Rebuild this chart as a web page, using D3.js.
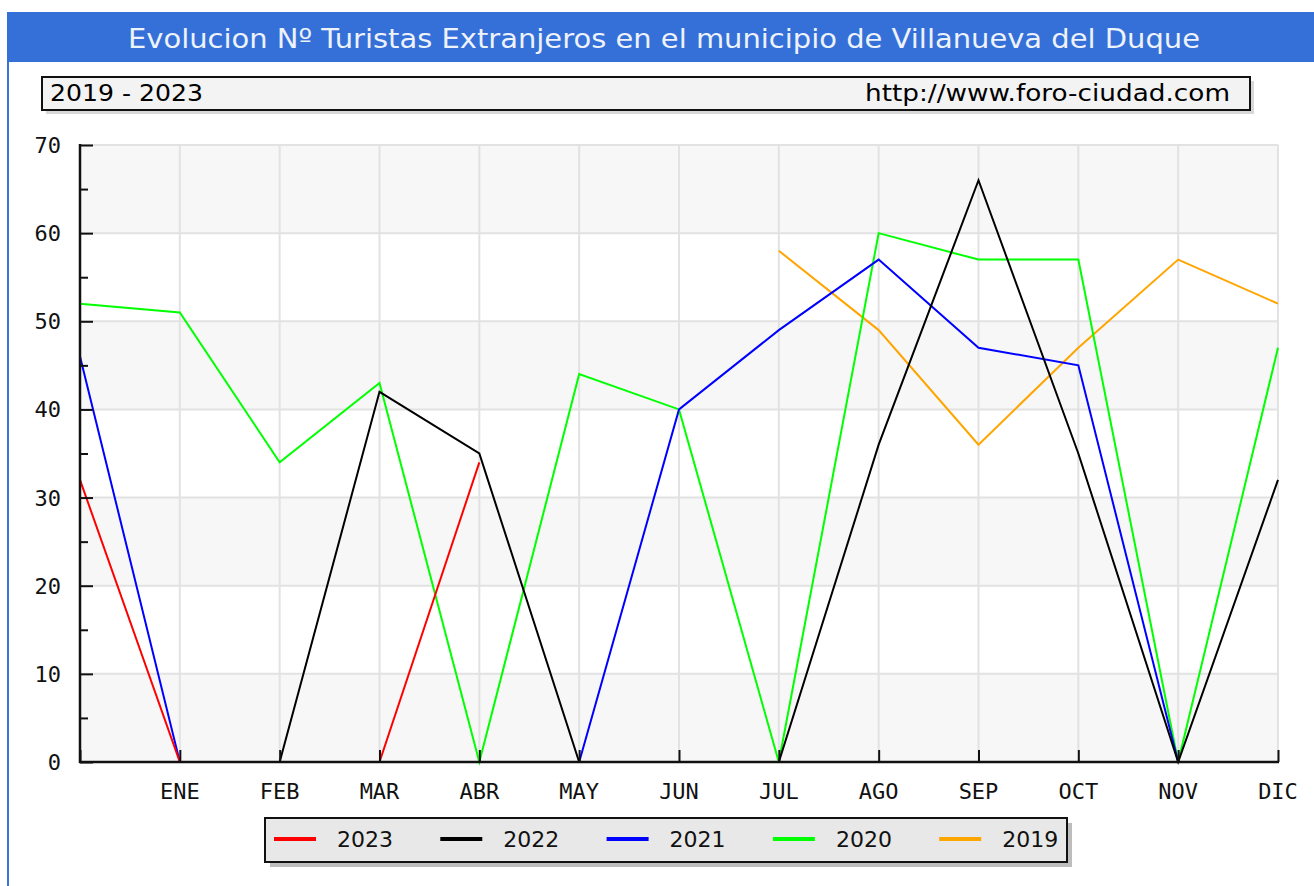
<!DOCTYPE html>
<html>
<head>
<meta charset="utf-8">
<script src="https://cdn.jsdelivr.net/npm/d3@7"></script>
<style>
  body { margin: 0; background: #fff; }
  svg { display: block; }
</style>
</head>
<body>
<svg id="chart" width="1314" height="886"></svg>
<script>
// data
const months = ['', 'ENE', 'FEB', 'MAR', 'ABR', 'MAY', 'JUN', 'JUL', 'AGO', 'SEP', 'OCT', 'NOV', 'DIC'];
const years = ['2023', '2022', '2021', '2020', '2019'];
const colors = ['#ff0000', '#000000', '#0000ff', '#00ff00', '#ffa500'];
const v2023 = [32, 0, 0, 0, 34, null, null, null, null, null, null, null, null];
const v2022 = [null, null, 0, 42, 35, 0, 0, 0, 36, 66, 35, 0, 32];
const v2021 = [46, 0, 0, 0, 0, 0, 40, 49, 57, 47, 45, 0, null];
const v2020 = [52, 51, 34, 43, 0, 44, 40, 0, 60, 57, 57, 0, 47];
const v2019 = [null, null, null, null, null, null, null, 58, 49, 36, 47, 57, 52];
const yTicks = [0, 10, 20, 30, 40, 50, 60, 70];

const series = [v2023, v2022, v2021, v2020, v2019];

const svg = d3.select('#chart');

// frame + title bar
svg.append('line')
    .attr('x1', 8).attr('x2', 8).attr('y1', 60).attr('y2', 886)
    .style('stroke', '#3a74da').style('stroke-width', 2);
svg.append('rect')
    .attr('x', 7).attr('y', 12).attr('width', 1307).attr('height', 50)
    .style('fill', '#3470d8');
svg.append('text')
    .attr('x', 128).attr('y', 48)
    .attr('textLength', 1072).attr('lengthAdjust', 'spacingAndGlyphs')
    .style('font-family', 'DejaVu Sans').style('font-size', '27px')
    .style('fill', '#eef2fb')
    .text('Evolucion Nº Turistas Extranjeros en el municipio de Villanueva del Duque');

// subtitle box
svg.append('rect')
    .attr('x', 46).attr('y', 81).attr('width', 1208).attr('height', 33)
    .style('fill', '#d8d8d8');
svg.append('rect')
    .attr('x', 42).attr('y', 77).attr('width', 1208).attr('height', 33)
    .style('fill', '#f3f3f3').style('stroke', '#111').style('stroke-width', 2);
svg.append('text')
    .attr('x', 50).attr('y', 101)
    .attr('textLength', 153).attr('lengthAdjust', 'spacingAndGlyphs')
    .style('font-family', 'DejaVu Sans').style('font-size', '23px')
    .text('2019 - 2023');
svg.append('text')
    .attr('x', 865).attr('y', 101)
    .attr('textLength', 365).attr('lengthAdjust', 'spacingAndGlyphs')
    .style('font-family', 'DejaVu Sans').style('font-size', '23px')
    .text('http://www.foro-ciudad.com');

// scales
let x = d3.scalePoint()
    .domain(d3.range(months.length))
    .range([80, 1278]);
let y = d3.scaleLinear()
    .domain([0, 70])
    .range([762, 145]);

// alternating bands
let plot = svg.append('g');
for (let i = 0; i < yTicks.length - 1; i++) {
    plot.append('rect')
        .attr('x', x(0)).attr('width', x(12) - x(0))
        .attr('y', y(yTicks[i + 1])).attr('height', y(yTicks[i]) - y(yTicks[i + 1]))
        .style('fill', i % 2 === 0 ? '#f7f7f7' : '#ffffff');
}

// grid
plot.append('g')
    .selectAll('line')
    .data(yTicks.slice(1))
    .enter()
    .append('line')
    .attr('x1', x(0)).attr('x2', x(12))
    .attr('y1', d => y(d)).attr('y2', d => y(d))
    .style('stroke', '#e2e2e2').style('stroke-width', 2);
plot.append('g')
    .selectAll('line')
    .data(d3.range(1, months.length))
    .enter()
    .append('line')
    .attr('x1', d => x(d)).attr('x2', d => x(d))
    .attr('y1', y(70)).attr('y2', y(0))
    .style('stroke', '#e2e2e2').style('stroke-width', 2);

// series lines, oldest first so 2023 ends on top
let line = d3.line()
    .defined(d => d !== null)
    .x((d, i) => x(i))
    .y(d => y(d));

for (let s = series.length - 1; s >= 0; s--) {
    svg.append('path')
        .datum(series[s])
        .attr('d', line)
        .style('fill', 'none')
        .style('stroke', colors[s])
        .style('stroke-width', 2);
}

// y axis: ticks pointing inward, minor every 5
let yAxis = svg.append('g')
    .attr('transform', 'translate(80,0)')
    .call(d3.axisRight(y).tickValues(d3.range(0, 71, 5)).tickSize(0).tickFormat(''));
yAxis.select('.domain').remove();
yAxis.selectAll('.tick line')
    .attr('x2', d => d % 10 === 0 ? 13 : 8)
    .style('stroke', '#111').style('stroke-width', 2);
svg.append('line')
    .attr('x1', 80).attr('x2', 80).attr('y1', y(70) - 1).attr('y2', y(0) + 1)
    .style('stroke', '#111').style('stroke-width', 2.5);
svg.append('g')
    .selectAll('text')
    .data(yTicks)
    .enter()
    .append('text')
    .attr('x', 61)
    .attr('y', d => y(d) + 8)
    .attr('text-anchor', 'end')
    .style('font-family', 'DejaVu Sans Mono').style('font-size', '22px')
    .style('fill', '#111')
    .text(d => d);

// x axis
let xAxis = svg.append('g')
    .attr('transform', 'translate(0,' + y(0) + ')')
    .call(d3.axisTop(x).tickSize(12).tickFormat(''));
xAxis.select('.domain').remove();
xAxis.selectAll('.tick line').style('stroke', '#111').style('stroke-width', 2);
svg.append('line')
    .attr('x1', 79).attr('x2', x(12) + 1).attr('y1', y(0)).attr('y2', y(0))
    .style('stroke', '#111').style('stroke-width', 2.5);
svg.append('g')
    .selectAll('text')
    .data(d3.range(1, months.length))
    .enter()
    .append('text')
    .attr('x', d => x(d))
    .attr('y', 799)
    .attr('text-anchor', 'middle')
    .style('font-family', 'DejaVu Sans Mono').style('font-size', '22px')
    .style('fill', '#111')
    .text(d => months[d]);

// legend
let legend = svg.append('g');
legend.append('rect')
    .attr('x', 270).attr('y', 823).attr('width', 802).attr('height', 44)
    .style('fill', '#bdbdbd');
legend.append('rect')
    .attr('x', 265).attr('y', 818).attr('width', 802).attr('height', 44)
    .style('fill', '#e8e8e8').style('stroke', '#111').style('stroke-width', 2);
years.forEach(function (yr, i) {
    let lx = 274 + i * 166.3;
    legend.append('line')
        .attr('x1', lx).attr('x2', lx + 42).attr('y1', 839).attr('y2', 839)
        .style('stroke', colors[i]).style('stroke-width', 4);
    legend.append('text')
        .attr('x', lx + 63).attr('y', 847)
        .style('font-family', 'DejaVu Sans').style('font-size', '22px')
        .style('fill', '#111')
        .text(yr);
});
</script>
</body>
</html>
